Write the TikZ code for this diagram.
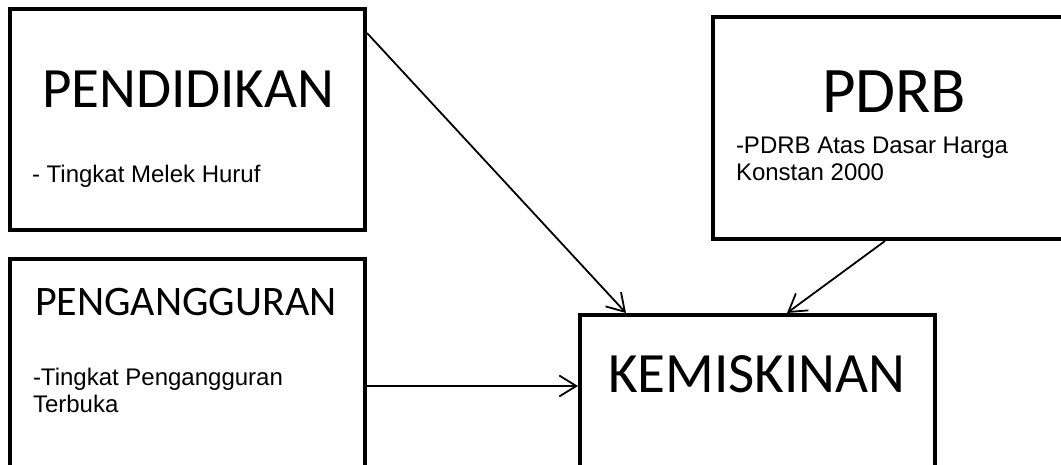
\documentclass[tikz,border=0pt]{standalone}
\usepackage{fontspec}
\setmainfont{Liberation Sans}
\newfontfamily\titlefont{Carlito}
\usetikzlibrary{arrows.meta}

\tikzset{
  box/.style={draw=black, line width=4pt, rectangle, inner sep=0pt, outer sep=0pt, fill=white},
  heading/.style={anchor=base west, inner sep=0pt, outer sep=0pt},
  % base anchor of a multi-line block sits on its last line
  detail/.style={anchor=base west, inner sep=0pt, outer sep=0pt, align=left,
                 font=\fontsize{24}{27}\selectfont},
  conn/.style={draw=black, line width=1.8pt, -{Straight Barb[length=17pt,width=21pt,line width=1.8pt]}}
}

\begin{document}
\begin{tikzpicture}[x=1pt, y=-1pt]
  \useasboundingbox (0,0) rectangle (1061,464);
  \clip (0,0) rectangle (1061,464);

  % the four variable boxes
  \node[box, minimum width=355pt, minimum height=221.5pt] (pend) at (187.5,119.25) {};
  \node[box, minimum width=355pt, minimum height=216pt]   (peng) at (187.5,367) {};
  \node[box, minimum width=362pt, minimum height=222pt]   (pdrb) at (894,128) {};
  \node[box, minimum width=355pt, minimum height=160pt]   (kem)  at (757.5,395) {};

  % headings
  \node[heading, font=\titlefont\fontsize{57}{60}\selectfont] (tPend) at (42,107) {PENDIDIKAN};
  \node[heading, font=\titlefont\fontsize{42}{46}\selectfont] (tPeng) at (35,315) {PENGANGGURAN};
  \node[heading, font=\titlefont\fontsize{65}{70}\selectfont] (tPdrb) at (822,112) {PDRB};
  \node[heading, font=\titlefont\fontsize{57}{60}\selectfont] (tKem)  at (608,392) {KEMISKINAN};

  % indicators
  \node[detail] (dPend) at (32,182) {- Tingkat Melek Huruf};
  \node[detail] (dPeng) at (33,412) {-Tingkat Pengangguran\\Terbuka};
  \node[detail] (dPdrb) at (736,180) {-PDRB Atas Dasar Harga\\Konstan 2000};

  % influence arrows
  \draw[conn] ([xshift=2pt,yshift=-24.5pt]pend.north east) -- ([xshift=46pt,yshift=2pt]kem.north west);
  \draw[conn] ([xshift=2pt,yshift=-19pt]peng.east) -- ([xshift=-2pt,yshift=-19pt]peng.east -| kem.west);
  \draw[conn] ([xshift=-9pt,yshift=-2pt]pdrb.south) -- ([xshift=29.5pt,yshift=2pt]kem.north);
\end{tikzpicture}
\end{document}
